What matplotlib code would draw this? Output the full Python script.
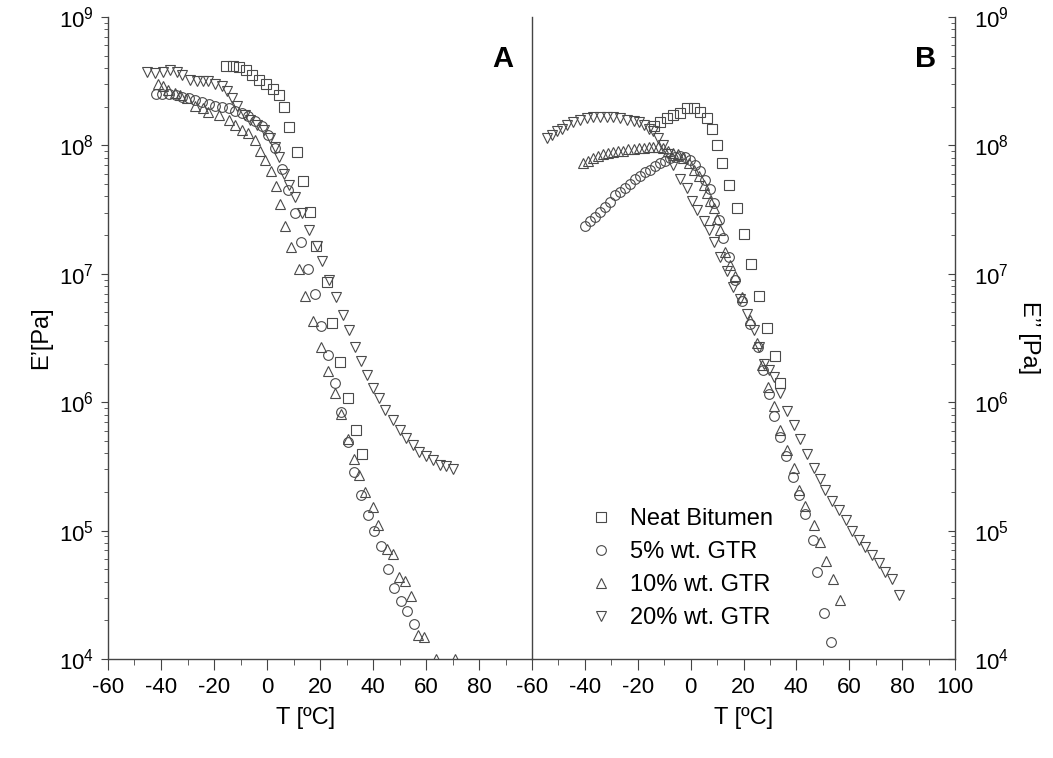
import numpy as np
import matplotlib
matplotlib.use("Agg")
import matplotlib.pyplot as plt
from matplotlib.ticker import MultipleLocator, LogLocator, NullFormatter

plt.rcParams['font.family'] = ['Liberation Sans', 'DejaVu Sans']
plt.rcParams['mathtext.fontset'] = 'custom'
plt.rcParams['mathtext.rm'] = 'Liberation Sans'
plt.rcParams['mathtext.it'] = 'Liberation Sans:italic'
plt.rcParams['mathtext.bf'] = 'Liberation Sans:bold'
plt.rcParams['axes.unicode_minus'] = False

# ---- Panel A: storage modulus E' (T in degC, log10 of E' in Pa) ----
t_a_neat = [-15.6, -13.0, -10.5, -8.0, -5.5, -2.9, -0.4, 2.1, 4.4, 6.3, 8.4, 11.3,
            13.5, 16.1, 18.4, 22.6, 24.5, 27.5, 30.5, 33.6, 35.8]
log_a_neat = [8.62, 8.62, 8.61, 8.59, 8.55, 8.51, 8.48, 8.44, 8.39, 8.30, 8.14, 7.95,
              7.72, 7.48, 7.22, 6.94, 6.62, 6.31, 6.03, 5.78, 5.60]

t_a_5 = [-42, -39.5, -37, -34.5, -32, -29.5, -27, -24.5, -22, -19.5, -17, -14.5, -12,
         -9.5, -7, -4.5, -2, 0.5, 3, 5.5, 8, 10.5, 13, 15.5, 18, 20.5, 23, 25.5, 28,
         30.5, 33, 35.5, 38, 40.5, 43, 45.5, 48, 50.5, 53, 55.5]
log_a_5 = [8.40, 8.40, 8.40, 8.39, 8.38, 8.37, 8.35, 8.34, 8.32, 8.31, 8.30, 8.29, 8.27,
           8.25, 8.23, 8.19, 8.15, 8.08, 7.98, 7.82, 7.65, 7.47, 7.25, 7.04, 6.84, 6.59,
           6.37, 6.15, 5.92, 5.69, 5.46, 5.28, 5.12, 5.00, 4.88, 4.70, 4.55, 4.45, 4.37,
           4.27]

t_a_10 = [-41.3, -39.2, -37.3, -34.7, -32.8, -30.3, -27.2, -24.0, -22.1, -18.3, -14.5,
          -12.0, -9.5, -7.0, -4.4, -2.5, -0.6, 1.5, 3.3, 4.9, 6.9, 9.2, 12.0, 14.5, 17.2,
          20.3, 23.1, 25.6, 28.0, 30.4, 32.8, 34.7, 37.0, 39.9, 42.0, 45.3, 47.5, 49.8,
          52.1, 54.4, 56.9, 59.4, 63.9, 71.1]
log_a_10 = [8.48, 8.46, 8.43, 8.41, 8.39, 8.37, 8.31, 8.29, 8.26, 8.24, 8.20, 8.16, 8.12,
            8.10, 8.04, 7.96, 7.89, 7.80, 7.68, 7.54, 7.37, 7.21, 7.04, 6.83, 6.63, 6.43,
            6.24, 6.07, 5.91, 5.71, 5.56, 5.43, 5.30, 5.18, 5.04, 4.86, 4.82, 4.64, 4.61,
            4.49, 4.19, 4.17, 4.0, 4.0]

t_a_20 = [-45.1, -42.3, -39.2, -36.6, -34.1, -32.2, -29.1, -26.6, -24.0, -22.1, -19.6,
          -17.1, -15.2, -13.3, -11.4, -8.2, -6.3, -3.8, -1.3, 1.3, 3.1, 4.4, 6.3, 8.2,
          10.7, 13.2, 15.8, 18.9, 20.8, 23.3, 25.9, 28.5, 31.0, 33.2, 35.5, 37.7, 39.9,
          42.4, 44.5, 47.5, 50.0, 52.5, 55.0, 57.5, 60.1, 62.6, 65.1, 67.7, 70.2]
log_a_20 = [8.57, 8.56, 8.57, 8.59, 8.57, 8.55, 8.51, 8.50, 8.50, 8.50, 8.48, 8.46, 8.42,
            8.37, 8.31, 8.24, 8.20, 8.16, 8.12, 8.06, 7.99, 7.91, 7.78, 7.69, 7.60, 7.47,
            7.34, 7.22, 7.10, 6.95, 6.82, 6.68, 6.56, 6.43, 6.32, 6.21, 6.11, 6.03, 5.94,
            5.86, 5.78, 5.72, 5.67, 5.61, 5.58, 5.55, 5.51, 5.50, 5.48]

# ---- Panel B: loss modulus E'' ----
t_b_neat = [-14.0, -11.5, -9.0, -6.5, -3.9, -1.4, 1.1, 3.6, 6.2, 8.1, 10.0, 11.9, 14.7,
            17.5, 20.0, 22.8, 26.0, 28.9, 32.0, 33.9]
log_b_neat = [8.15, 8.18, 8.21, 8.24, 8.25, 8.29, 8.29, 8.26, 8.21, 8.13, 8.00, 7.86,
              7.69, 7.51, 7.31, 7.08, 6.83, 6.58, 6.36, 6.15]

t_b_5 = [-39.9, -38.0, -36.1, -34.2, -32.3, -30.5, -28.6, -26.7, -24.8, -22.9, -21.0,
         -19.1, -17.2, -15.3, -13.4, -11.5, -9.6, -7.7, -5.8, -3.9, -2.0, -0.2, 1.7, 3.6,
         5.5, 7.2, 9.0, 10.7, 12.4, 14.4, 16.9, 19.4, 22.6, 25.3, 27.4, 29.5, 31.7, 33.7,
         36.2, 38.8, 40.9, 43.4, 46.3, 47.8, 50.6, 53.1]
log_b_5 = [7.37, 7.41, 7.44, 7.48, 7.52, 7.56, 7.61, 7.64, 7.67, 7.70, 7.74, 7.76, 7.79,
           7.81, 7.84, 7.86, 7.88, 7.90, 7.91, 7.92, 7.91, 7.89, 7.85, 7.80, 7.73, 7.66,
           7.55, 7.42, 7.28, 7.13, 6.95, 6.79, 6.61, 6.43, 6.25, 6.06, 5.89, 5.73, 5.58,
           5.42, 5.28, 5.13, 4.93, 4.68, 4.36, 4.13]

t_b_10 = [-40.6, -38.7, -36.8, -34.9, -33.0, -31.1, -29.2, -27.3, -25.4, -23.5, -21.6,
          -19.7, -17.8, -15.9, -14.1, -12.2, -10.3, -8.4, -6.5, -4.6, -2.7, -0.8, 1.1,
          3.0, 4.9, 6.2, 7.4, 8.7, 10.0, 11.2, 13.1, 15.0, 16.9, 19.4, 22.3, 25.1, 27.0,
          29.1, 31.7, 33.7, 36.5, 39.0, 40.9, 43.4, 46.6, 49.1, 51.2, 53.9, 56.4]
log_b_10 = [7.86, 7.88, 7.90, 7.92, 7.93, 7.94, 7.95, 7.96, 7.96, 7.97, 7.97, 7.98, 7.98,
            7.99, 7.99, 7.99, 7.98, 7.96, 7.94, 7.93, 7.90, 7.86, 7.81, 7.76, 7.69, 7.63,
            7.57, 7.51, 7.43, 7.34, 7.17, 7.07, 6.98, 6.82, 6.64, 6.46, 6.29, 6.12, 5.97,
            5.78, 5.63, 5.49, 5.32, 5.19, 5.04, 4.91, 4.76, 4.62, 4.46]

t_b_20 = [-54.4, -52.5, -50.6, -48.8, -46.9, -44.4, -41.8, -39.3, -36.8, -34.2, -31.7,
          -29.2, -26.7, -24.1, -21.6, -19.7, -17.8, -15.9, -14.1, -12.2, -10.3, -8.4,
          -6.5, -3.9, -1.4, 0.5, 2.4, 4.9, 6.8, 8.7, 11.2, 13.7, 16.2, 18.8, 21.3, 23.8,
          25.7, 27.6, 29.5, 31.4, 33.9, 36.5, 39.0, 41.5, 44.0, 46.6, 48.8, 51.0, 53.5,
          56.0, 58.6, 61.1, 63.6, 66.1, 68.7, 71.2, 73.7, 76.2, 78.8]
log_b_20 = [8.06, 8.08, 8.11, 8.13, 8.16, 8.18, 8.20, 8.21, 8.22, 8.22, 8.22, 8.22, 8.21,
            8.20, 8.19, 8.18, 8.16, 8.13, 8.11, 8.06, 8.00, 7.93, 7.85, 7.74, 7.67, 7.57,
            7.50, 7.41, 7.34, 7.25, 7.13, 7.02, 6.90, 6.80, 6.69, 6.56, 6.43, 6.30, 6.25,
            6.20, 6.07, 5.93, 5.82, 5.71, 5.60, 5.49, 5.40, 5.32, 5.23, 5.16, 5.08, 5.00,
            4.93, 4.87, 4.81, 4.75, 4.68, 4.62, 4.50]

labels = ["Neat Bitumen", "5% wt. GTR", "10% wt. GTR", "20% wt. GTR"]
markers = ["s", "o", "^", "v"]

fig = plt.figure(figsize=(10.53, 7.58), dpi=100)
ax1 = fig.add_axes([108 / 1053, 1 - 659 / 758, 424 / 1053, 642 / 758])
ax2 = fig.add_axes([532 / 1053, 1 - 659 / 758, 423 / 1053, 642 / 758])
ax2.patch.set_alpha(0)

mk = dict(linestyle="none", markerfacecolor="none", markeredgecolor="#4a4a4a",
          markersize=7, markeredgewidth=0.8)

series_a = [(t_a_neat, log_a_neat), (t_a_5, log_a_5), (t_a_10, log_a_10), (t_a_20, log_a_20)]
series_b = [(t_b_neat, log_b_neat), (t_b_5, log_b_5), (t_b_10, log_b_10), (t_b_20, log_b_20)]

for (t, le), m in zip(series_a, markers):
    ax1.plot(t, 10 ** np.array(le), marker=m, **mk)
handles = []
for (t, le), m, lab in zip(series_b, markers, labels):
    h, = ax2.plot(t, 10 ** np.array(le), marker=m, label=lab, **mk)
    handles.append(h)

tick_col = "#444444"
for ax in (ax1, ax2):
    ax.set_yscale("log")
    ax.set_ylim(1e4, 1e9)
    ax.set_xlim(-60, 100)
    ax.xaxis.set_minor_locator(MultipleLocator(10))
    ax.yaxis.set_major_locator(LogLocator(base=10, numticks=10))
    ax.yaxis.set_minor_locator(LogLocator(base=10, subs=np.arange(2, 10), numticks=20))
    ax.yaxis.set_minor_formatter(NullFormatter())
    ax.spines["top"].set_visible(False)
    for s in ax.spines.values():
        s.set_color(tick_col)
        s.set_linewidth(1.0)
    ax.tick_params(axis="x", which="major", direction="out", length=8, color=tick_col,
                   labelsize=16, pad=5)
    ax.tick_params(axis="x", which="minor", direction="out", length=4, color=tick_col)
    ax.set_xlabel("T [ºC]", fontsize=17, labelpad=7)

ax1.set_xticks(np.arange(-60, 81, 20))
ax2.set_xticks(np.arange(-60, 101, 20))
ax1.xaxis.set_label_coords(0.465, -0.075)
ax2.xaxis.set_label_coords(0.5, -0.075)

ax1.spines["right"].set_visible(False)
ax1.tick_params(axis="y", which="major", direction="out", length=5, color=tick_col,
                labelsize=16, right=False, pad=5)
ax1.tick_params(axis="y", which="minor", direction="out", length=3, color=tick_col,
                right=False)
ax1.set_ylabel("E’[Pa]", fontsize=17, labelpad=5)

ax2.yaxis.tick_right()
ax2.yaxis.set_label_position("right")
ax2.tick_params(axis="y", which="major", direction="in", length=5, color=tick_col,
                labelsize=16, left=False, pad=14)
ax2.tick_params(axis="y", which="minor", direction="in", length=3, color=tick_col,
                left=False)
ax2.set_ylabel("E’’ [Pa]", fontsize=17, rotation=270, labelpad=22)

ax1.text(0.93, 0.935, "A", transform=ax1.transAxes, fontsize=21, fontweight="bold",
         ha="center", va="center")
ax2.text(0.93, 0.935, "B", transform=ax2.transAxes, fontsize=21, fontweight="bold",
         ha="center", va="center")

ax2.legend(handles=handles, loc="upper right", bbox_to_anchor=(0.619, 0.2685),
           frameon=False, fontsize=17, handletextpad=0.6, labelspacing=0.47,
           handlelength=1.2)

fig.savefig("out.png", dpi=100)
